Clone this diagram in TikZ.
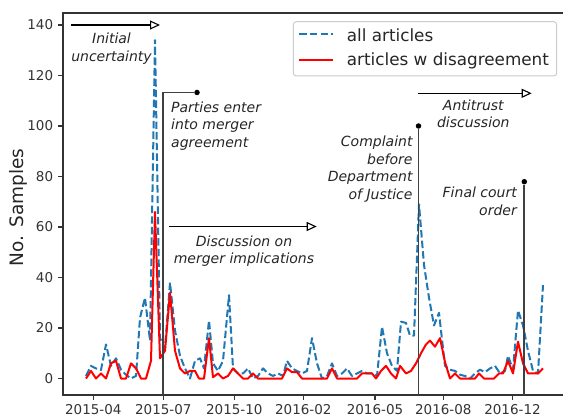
\documentclass[tikz,border=0pt]{standalone}
\usepackage{fontspec}
\setmainfont{DejaVu Sans}
\usetikzlibrary{arrows.meta}
\definecolor{mplblue}{HTML}{1F77B4}
\definecolor{spinec}{HTML}{333333}
\definecolor{annc}{HTML}{404040}
\definecolor{legc}{HTML}{CCCCCC}
\tikzset{
  spineline/.style={draw=spinec, line width=1.1pt},
  ticklab/.style={font=\fontsize{13.5}{16}\selectfont, text=spinec, inner sep=0pt},
  anntext/.style={font=\fontsize{14}{17.4}\selectfont\itshape, text=black!85, inner sep=0pt},
  eventline/.style={draw=annc, line width=1.8pt},
  eventdot/.style={circle, fill=black, inner sep=0pt, minimum size=5.5pt},
  spanarrow/.style={draw=black, line width=1.1pt, -{Triangle[open, length=10pt, width=9pt, line width=1.1pt]}},
  allart/.style={draw=mplblue, line width=2pt, dash pattern=on 7.4pt off 3.2pt, line join=round},
  disart/.style={draw=red, line width=2pt, line join=round},
  legtext/.style={font=\fontsize{16.8}{20}\selectfont, text=black!85, inner sep=0pt},
}
\begin{document}
\begin{tikzpicture}[x=1pt,y=-1pt]
\useasboundingbox (0,0) rectangle (563,417);
\fill[white] (0,0) rectangle (563,417);

% data
\begin{scope}[shift={(0,378.5)}, yscale=-2.525]
\draw[allart] plot coordinates {(86,1) (91,5) (96,4) (101,3.4) (106,13.5) (111,5) (116,8) (121,3.5) (126,1.5) (131,0) (136,1) (140,24) (145,32) (150,15) (155,134) (160,16) (165,12) (170,38) (175,19) (180,9) (185,4) (190,0) (195,7) (200,8) (204,4) (209,23) (213,6) (218,3) (223,7) (229,33) (233,4) (238,2) (243,2) (248,4) (253,0) (258,1) (263,4) (268,2) (273,1) (278,2) (283,1) (287,7) (292,4) (297,3) (302,2) (307,3) (312,16) (317,6) (322,0) (327,1) (332,6) (337,1) (342,2) (347,4) (352,1) (357,2) (362,3) (367,2) (372,2) (377,1) (382,20.5) (387,10) (392,5) (397,3) (401,22.5) (406,22) (410,17) (414,17) (419,69) (424,45) (429,32) (434,21) (439,26) (445,5) (450,3.5) (455,3) (460,1.5) (465,1) (470,0) (475,2) (480,3.5) (485,2.5) (490,4) (495,5) (500,2) (505,3) (508,9) (513,3.5) (518,27) (523,21) (528,11) (533,3) (538,2) (543,37)};
\draw[disart] plot coordinates {(86,0) (91,3) (96,0) (101,2) (106,0) (111,6) (116,7) (121,0) (126,0) (131,6) (136,4) (141,0) (146,0) (151,7) (155,66) (160,8) (165,11) (170,34) (175,11) (180,4) (185,2) (190,3) (195,3) (199,0) (204,0) (209,16) (213,0.5) (218,2) (223,0) (228,1) (233,4) (238,2) (243,0) (248,0) (253,2) (258,0) (263,0) (268,0) (273,0) (278,0) (282,0) (287,4) (292,2.5) (297,2.5) (302,0) (307,0) (312,0) (317,0) (322,0) (327,0) (332,4) (337,0) (342,0) (347,0) (352,0) (357,0) (362,2) (367,2) (372,2) (376,0) (381,3) (386,5) (391,2) (396,0) (400,5) (406,2) (411,3) (416,6) (421,10) (426,13.5) (430,15) (435,12.6) (440,16) (445,6.5) (450,0) (455,2) (460,0) (465,0) (470,0) (475,0) (479,2) (484,0) (489,0) (494,0) (499,2) (503,2) (508,7) (513,2) (518,14.6) (523,6) (528,2) (533,2) (538,2) (543,4)};
\end{scope}

% spines
\draw[spineline] (563,13) -- (63,13) -- (63,395) -- (563,395);

% y ticks
\foreach \v in {0,20,...,140} {
  \draw[spineline] (58,{378.5-2.525*\v}) -- (63,{378.5-2.525*\v});
  \node[ticklab, anchor=east] (yt\v) at (53.3,{378.5-2.525*\v}) {\v};
}
% x ticks
\foreach \x/\lab [count=\i] in {93.3/2015-04, 163.3/2015-07, 234.3/2015-10, 303.3/2016-02, 375/2016-05, 443.3/2016-08, 512.5/2016-12} {
  \draw[spineline] (\x,395) -- (\x,400);
  \node[ticklab, anchor=north] (xt\i) at (\x,404.5) {\lab};
}

% y label
\node[font=\fontsize{18.5}{22}\selectfont, text=black!85, rotate=90, inner sep=0pt] (ylab) at (18,207.5) {No. Samples};

% event lines
\node[eventdot] (d1) at (197,92.5) {};
\coordinate (b1) at (163.3,395);
\draw[eventline] (b1) |- (d1);
\node[eventdot] (d2) at (418.5,126) {};
\coordinate (b2) at (418.5,395);
\draw[eventline] (b2) -- (d2);
\node[eventdot] (d3) at (524.3,181.7) {};
\coordinate (b3) at (524.3,395);
\draw[eventline] (b3) -- (d3);

% span arrows
\coordinate (s1) at (71,25);   \coordinate (e1) at (160,25);
\draw[spanarrow] (s1) -- (e1);
\coordinate (s2) at (169,226.5); \coordinate (e2) at (316.7,226.5);
\draw[spanarrow] (s2) -- (e2);
\coordinate (s3) at (418.3,93.3); \coordinate (e3) at (531.7,93.3);
\draw[spanarrow] (s3) -- (e3);

% annotation texts
\node[anntext, align=center] (t1) at (111.5,48.7) {Initial\\uncertainty};
\node[anntext, align=left, anchor=west] (t2) at (171,126) {Parties enter\\into merger\\agreement};
\node[anntext, align=center] (t3) at (244,251.2) {Discussion on\\merger implications};
\node[anntext, align=center] (t4) at (473.3,113.7) {Antitrust\\discussion};
\node[anntext, align=right, anchor=east] (t5) at (412.7,169) {Complaint\\before\\Department\\of Justice};
\node[anntext, align=right, anchor=east] (t6) at (517,201.4) {Final court\\order};

% legend
\draw[draw=legc, fill=white, fill opacity=0.8, line width=1pt, rounded corners=3pt] (293.3,21.7) rectangle (556.7,76);
\coordinate (l1a) at (299.3,34.3); \coordinate (l1b) at (333.3,34.3);
\draw[allart] (l1a) -- (l1b);
\coordinate (l2a) at (299.3,60); \coordinate (l2b) at (333.3,60);
\draw[disart] (l2a) -- (l2b);
\node[legtext, anchor=base west] (lt1) at (346.7,41.7) {all articles};
\node[legtext, anchor=base west] (lt2) at (346.7,66) {articles w disagreement};
\end{tikzpicture}
\end{document}
